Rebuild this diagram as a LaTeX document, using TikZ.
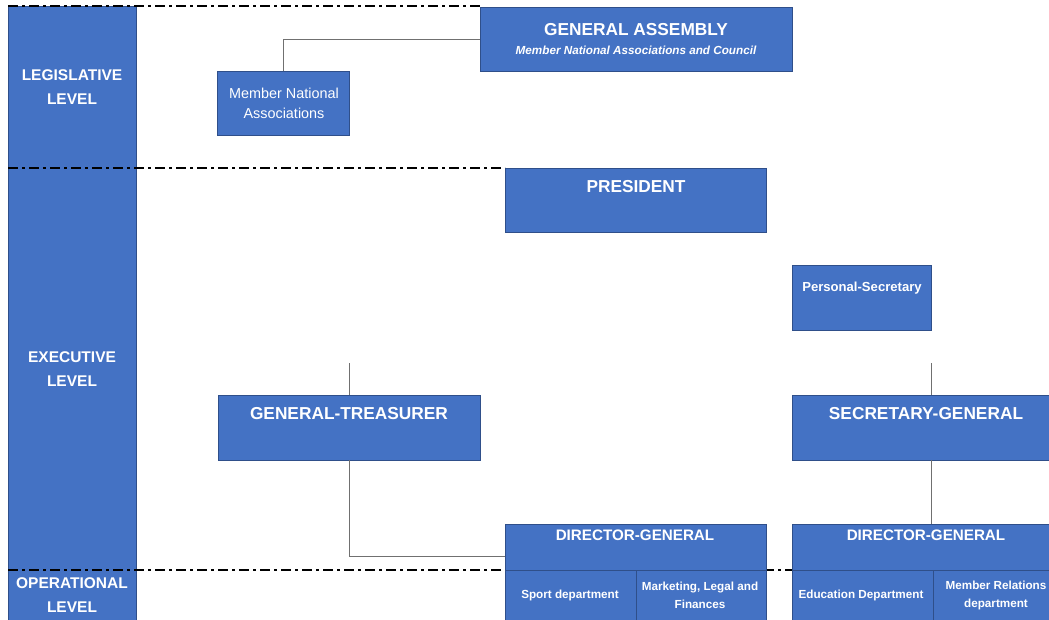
\documentclass[tikz,border=0pt]{standalone}
\usepackage{fontspec}
\setmainfont{Liberation Sans}
\definecolor{boxblue}{HTML}{4472C4}
\definecolor{boxedge}{HTML}{2F4F8A}
\definecolor{conn}{HTML}{707070}
\begin{document}
\begin{tikzpicture}[x=1pt,y=-1pt,
  blk/.style={fill=boxblue,draw=boxedge,line width=0.8pt,anchor=north west,inner sep=0pt,outer sep=0pt},
  wt/.style={text=white,inner sep=0pt,align=center,font=\bfseries},
  big/.style={wt,font=\fontsize{17.3}{20}\selectfont\bfseries},
  mid/.style={wt,font=\fontsize{15.5}{24}\selectfont\bfseries},
  small/.style={wt,font=\fontsize{11.7}{18}\selectfont\bfseries},
  lvldash/.style={line width=1.8pt,black,dash pattern=on 10pt off 4pt on 3pt off 4pt},
  cn/.style={conn,line width=1pt}]
\useasboundingbox (0,0) rectangle (1049,619);
% sidebar
\node[blk,minimum width=128pt,minimum height=616pt] (side) at (8,6) {};
% level separators
\draw[lvldash] (8,6) -- (480,6);
\draw[lvldash] (8,168) -- (505,168);
\draw[lvldash] (8,570) -- (1049,570);
% level labels
\node[mid] (lleg) at (72,87) {LEGISLATIVE\\LEVEL};
\node[mid] (lexe) at (72,369) {EXECUTIVE\\LEVEL};
\node[mid] (lope) at (72,595) {OPERATIONAL\\LEVEL};
% boxes
\node[blk,minimum width=312pt,minimum height=64pt] (ga) at (480,7) {};
\node[blk,minimum width=132pt,minimum height=64pt] (mna) at (217,71) {};
\node[blk,minimum width=261pt,minimum height=64pt] (pres) at (505,168) {};
\node[blk,minimum width=139pt,minimum height=65pt] (ps) at (792,265) {};
\node[blk,minimum width=262pt,minimum height=65pt] (gt) at (218,395) {};
\node[blk,minimum width=257pt,minimum height=65pt] (sg) at (792,395) {};
\node[blk,minimum width=261pt,minimum height=46pt] (dgA) at (505,524) {};
\node[blk,minimum width=131pt,minimum height=52pt] (sport) at (505,570) {};
\node[blk,minimum width=130pt,minimum height=52pt] (mkt) at (636,570) {};
\node[blk,minimum width=257pt,minimum height=46pt] (dgB) at (792,524) {};
\node[blk,minimum width=141pt,minimum height=52pt] (edu) at (792,570) {};
\node[blk,minimum width=116pt,minimum height=52pt] (mem) at (933,570) {};
% texts
\node[big] (tga) at (636,30) {GENERAL ASSEMBLY};
\node[wt,font=\fontsize{11.7}{14}\selectfont\bfseries\itshape] (tgasub) at (636,50) {Member National Associations and Council};
\node[wt,font=\fontsize{14.4}{20}\selectfont] (tmna) at (284,103) {Member National\\Associations};
\node[big] (tpres) at (636,187) {PRESIDENT};
\node[wt,font=\fontsize{13.1}{16}\selectfont\bfseries] (tps) at (862,288) {Personal-Secretary};
\node[big] (tgt) at (349,414) {GENERAL-TREASURER};
\node[big] (tsg) at (926,414) {SECRETARY-GENERAL};
\node[wt,font=\fontsize{15.2}{18}\selectfont\bfseries] (tdgA) at (635,535) {DIRECTOR-GENERAL};
\node[wt,font=\fontsize{15.2}{18}\selectfont\bfseries] (tdgB) at (926,535) {DIRECTOR-GENERAL};
\node[small] (tsport) at (570,595) {Sport department};
\node[small] (tmkt) at (700,595) {Marketing, Legal and\\Finances};
\node[small] (tedu) at (861,595) {Education Department};
\node[small] (tmem) at (996,595) {Member Relations\\department};
% connectors
\coordinate (gtTop) at (349,363);
\coordinate (sgTop) at (931,363);
\draw[cn] (mna.north) |- (ga.west);
\draw[cn] (gtTop) -- (gt.north);
\draw[cn] (sgTop) -- (sgTop |- sg.north);
\draw[cn] (sgTop |- sg.south) -- (sgTop |- dgB.north);
\draw[cn] (gt.south) |- ([yshift=-9pt]dgA.west);
\end{tikzpicture}
\end{document}
